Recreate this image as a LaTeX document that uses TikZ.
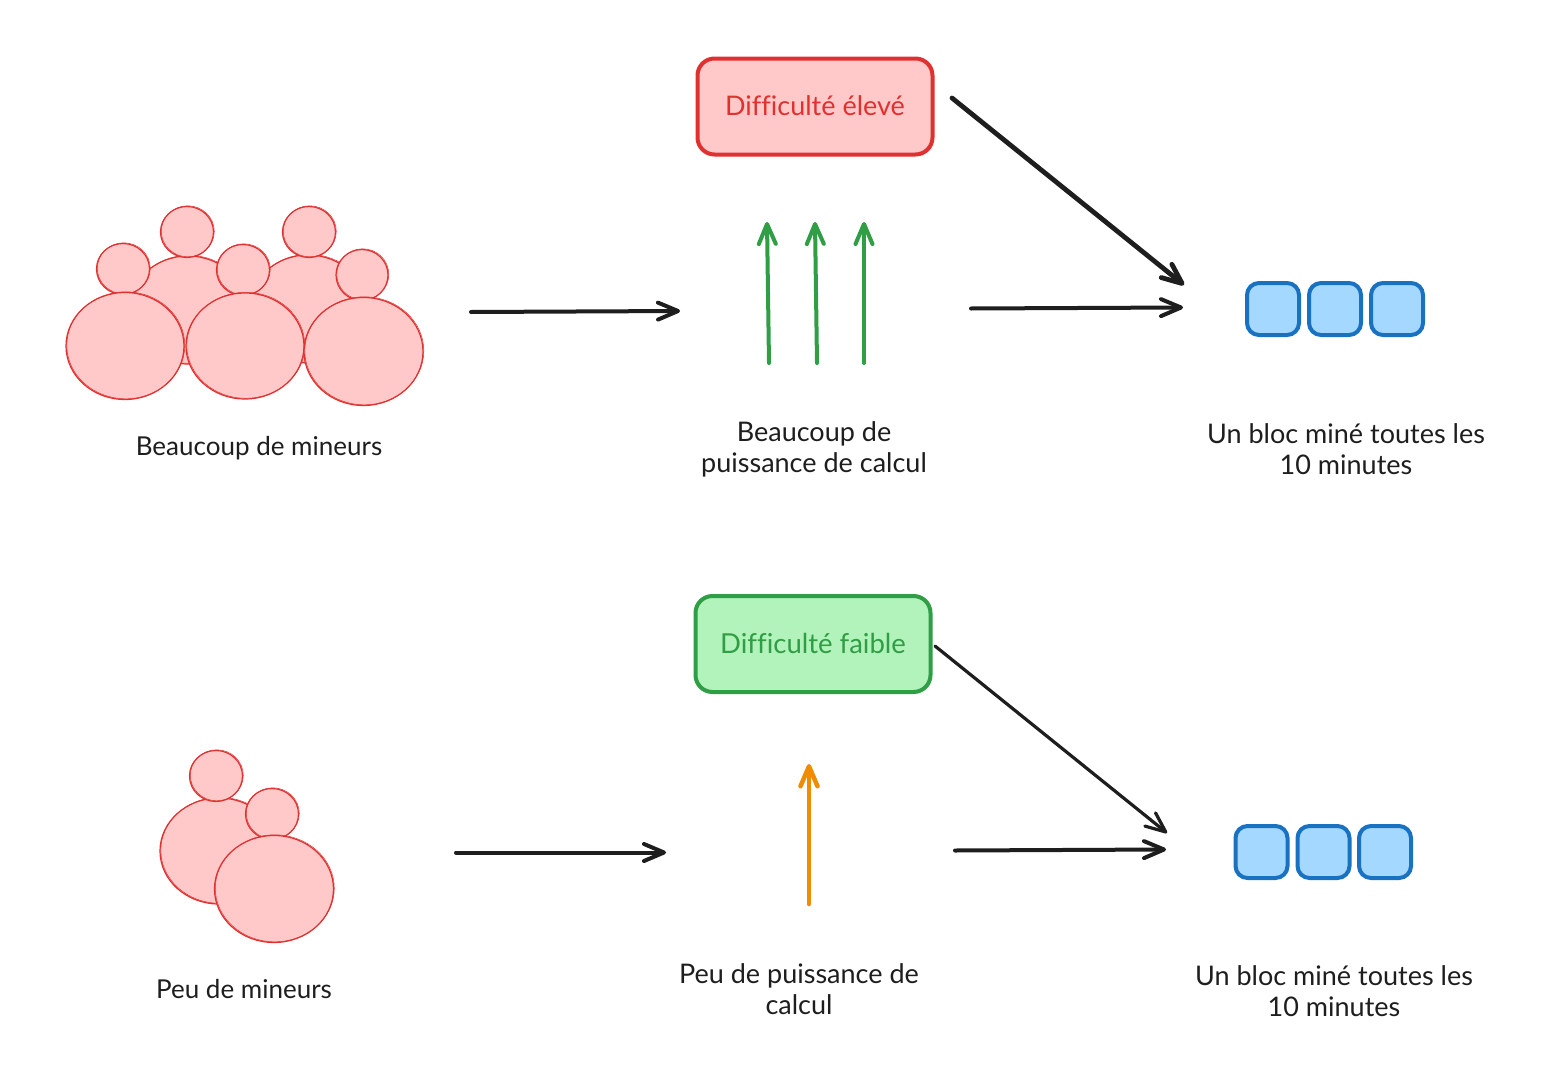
\documentclass[tikz,border=0pt]{standalone}
\usepackage{fontspec}
\setmainfont[Ligatures=NoCommon]{Lato}
\usetikzlibrary{arrows.meta,shapes.geometric}
\definecolor{ink}{HTML}{1E1E1E}
\definecolor{redline}{HTML}{E03131}
\definecolor{redfill}{HTML}{FFC9C9}
\definecolor{greenline}{HTML}{2F9E44}
\definecolor{greenfill}{HTML}{B2F2BB}
\definecolor{blueline}{HTML}{1971C2}
\definecolor{bluefill}{HTML}{A5D8FF}
\definecolor{orangeline}{HTML}{F08C00}
\tikzset{
  x=1pt,y=-1pt,
  barb/.style={-{Straight Barb[length=20pt,width=17pt,line cap=round,round]},line cap=round,line width=#1},
  barb/.default=4pt,
  blob/.style={ellipse,draw=redline,fill=redfill,line width=1.2pt,inner sep=0pt,outer sep=0pt},
  blobtrace/.style={ellipse,draw=redline,line width=0.5pt,inner sep=0pt,outer sep=0pt},
  diffbox/.style={rectangle,rounded corners=17pt,line width=4pt,minimum width=235pt,minimum height=96pt,inner sep=0pt},
  blockbox/.style={rectangle,rounded corners=12pt,draw=blueline,fill=bluefill,line width=4pt,minimum width=52pt,minimum height=52pt,inner sep=0pt},
  caption/.style={align=center,text=ink,inner sep=0pt,font=\fontsize{26}{31}\selectfont},
  wide caption/.style={caption,font=\fontsize{27}{31}\selectfont},
}
\newcommand{\blobat}[5]{%
  \node[blob,minimum width=#4pt,minimum height=#5pt] (#1) at (#2,#3) {};
  \node[blobtrace,minimum width=#4pt,minimum height=#5pt] (#1t) at ([shift={(0.8,-0.7)}]#1.center) {};
}
\begin{document}
\begin{tikzpicture}
\useasboundingbox (0,0) rectangle (1548,1068);
\fill[white] (0,0) rectangle (1548,1068);

% upper crowd
\blobat{bodyA}{188}{310}{118}{108}
\blobat{bodyB}{308}{309}{118}{108}
\blobat{headB}{187}{232}{53}{51}
\blobat{headD}{309}{232}{53}{51}
\blobat{headA}{123}{269}{53}{51}
\blobat{headC}{243}{270}{53}{51}
\blobat{headE}{362}{275}{52}{51}
\blobat{bigA}{125}{346}{118}{107}
\blobat{bigB}{245}{346}{118}{106}
\blobat{bigC}{363.5}{351.5}{119}{108}
\node[caption] (capCrowd) at (259,448) {Beaucoup de mineurs};

% upper middle
\node[diffbox,draw=redline,fill=redfill,text=redline,font=\fontsize{27}{31}\selectfont] (hard) at (815,106.5) {\raisebox{1.5pt}{Difficulté élevé}};
\coordinate (g1s) at (769,363); \coordinate (g1e) at (767,222);
\coordinate (g2s) at (817,363); \coordinate (g2e) at (815,222);
\coordinate (g3s) at (864,363); \coordinate (g3e) at (864,222);
\draw[barb,draw=greenline] (g1s) -- (g1e);
\draw[barb,draw=greenline] (g2s) -- (g2e);
\draw[barb,draw=greenline] (g3s) -- (g3e);
\node[wide caption] (capPower) at (814,449.5) {Beaucoup de\\puissance de calcul};

% upper arrows
\coordinate (a1s) at (471,312); \coordinate (a1e) at (680,311);
\coordinate (a2s) at (952,98);  \coordinate (a2e) at (1184,285);
\coordinate (a3s) at (971,308.5); \coordinate (a3e) at (1183,307.5);
\draw[barb,draw=ink] (a1s) -- (a1e);
\draw[barb=4.8pt,draw=ink] (a2s) -- (a2e);
\draw[barb,draw=ink] (a3s) -- (a3e);

% upper blocks
\node[blockbox] (b1) at (1273,309) {};
\node[blockbox] (b2) at (1335,309) {};
\node[blockbox] (b3) at (1397,309) {};
\node[wide caption] (capBlocks) at (1346,449) {Un bloc miné toutes les\\10 minutes};

% lower crowd
\blobat{bodyL}{219}{851}{118}{106}
\blobat{headL}{216}{776}{53}{51}
\blobat{headR}{272}{814}{53}{51}
\blobat{bigL}{274}{889}{119}{107}
\node[caption] (capFew) at (244,989.5) {Peu de mineurs};

% lower middle
\node[diffbox,draw=greenline,fill=greenfill,text=greenline,font=\fontsize{27.5}{31}\selectfont] (easy) at (813,644) {\raisebox{1.5pt}{Difficulté faible}};
\coordinate (osrc) at (809,904); \coordinate (odst) at (809,764);
\draw[barb=4.5pt,draw=orangeline] (osrc) -- (odst);
\node[wide caption] (capLow) at (799,989) {Peu de puissance de\\calcul};

% lower arrows
\coordinate (c1s) at (456,852.5); \coordinate (c1e) at (666,852.5);
\coordinate (c2s) at (935,646); \coordinate (c2e) at (1167,833);
\coordinate (c3s) at (955,850.5); \coordinate (c3e) at (1166,849.5);
\draw[barb,draw=ink] (c1s) -- (c1e);
\draw[barb=3.2pt,draw=ink] (c2s) -- (c2e);
\draw[barb,draw=ink] (c3s) -- (c3e);

% lower blocks
\node[blockbox] (d1) at (1261.5,852) {};
\node[blockbox] (d2) at (1323.5,852) {};
\node[blockbox] (d3) at (1385,852) {};
\node[wide caption] (capBlocksLow) at (1334,991) {Un bloc miné toutes les\\10 minutes};
\end{tikzpicture}
\end{document}
